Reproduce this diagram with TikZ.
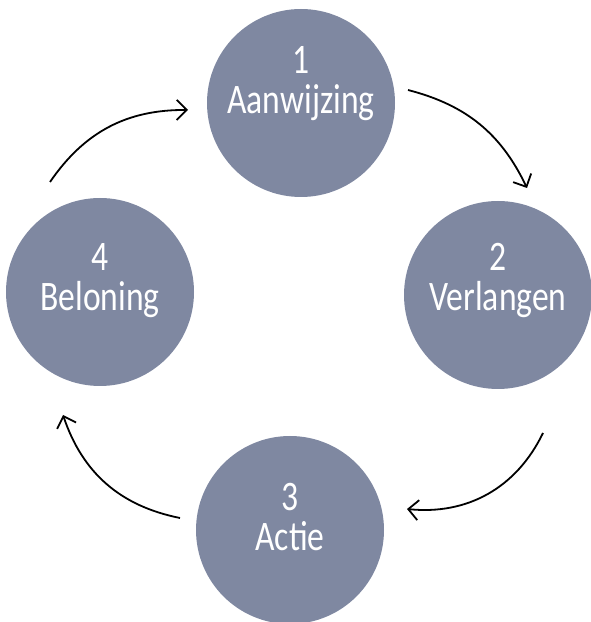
\documentclass[tikz,border=0pt]{standalone}
\usepackage{fontspec}
\setmainfont{Carlito}[FakeStretch=0.8]
\usetikzlibrary{arrows.meta}
\definecolor{stapgrijs}{RGB}{127,136,161}
\tikzset{
  stap/.style={circle, fill=stapgrijs, minimum size=188pt, inner sep=0pt},
  staptekst/.style={text=white, align=center, font=\fontsize{42}{40}\selectfont},
  pijl/.style={-{Straight Barb[length=10pt,width=20pt]}, line width=1.8pt}
}
\begin{document}
\begin{tikzpicture}[x=1pt, y=1pt]
            \useasboundingbox (0, 0) rectangle (591, 622);
            % de vier stappen
            \node[stap] (c1) at (301, 519) {};
            \node[stap] (c2) at (498, 327) {};
            \node[stap] (c3) at (290, 92) {};
            \node[stap] (c4) at (100, 330) {};
            \node[staptekst] (t1) at ([yshift=19pt]c1.center) {1\\Aanwijzing};
            \node[staptekst] (t2) at ([yshift=15pt]c2.center) {2\\Verlangen};
            \node[staptekst] (t3) at ([yshift=13pt]c3.center) {3\\Actie};
            \node[staptekst] (t4) at ([yshift=11pt]c4.center) {4\\Beloning};
            % begin- en eindpunten van de pijlen
            \coordinate (p1s) at (408, 532);
            \coordinate (p1e) at (527, 434);
            \coordinate (p2s) at (543, 189);
            \coordinate (p2e) at (407, 113);
            \coordinate (p3s) at (180, 104);
            \coordinate (p3e) at (63, 207);
            \coordinate (p4s) at (50, 440);
            \coordinate (p4e) at (188, 512);
            \draw[pijl] (p1s) to[bend left=25] (p1e);
            \draw[pijl] (p2s) to[bend left=35] (p2e);
            \draw[pijl] (p3s) to[bend left=30] (p3e);
            \draw[pijl] (p4s) to[bend left=28] (p4e);
        \end{tikzpicture}
\end{document}
